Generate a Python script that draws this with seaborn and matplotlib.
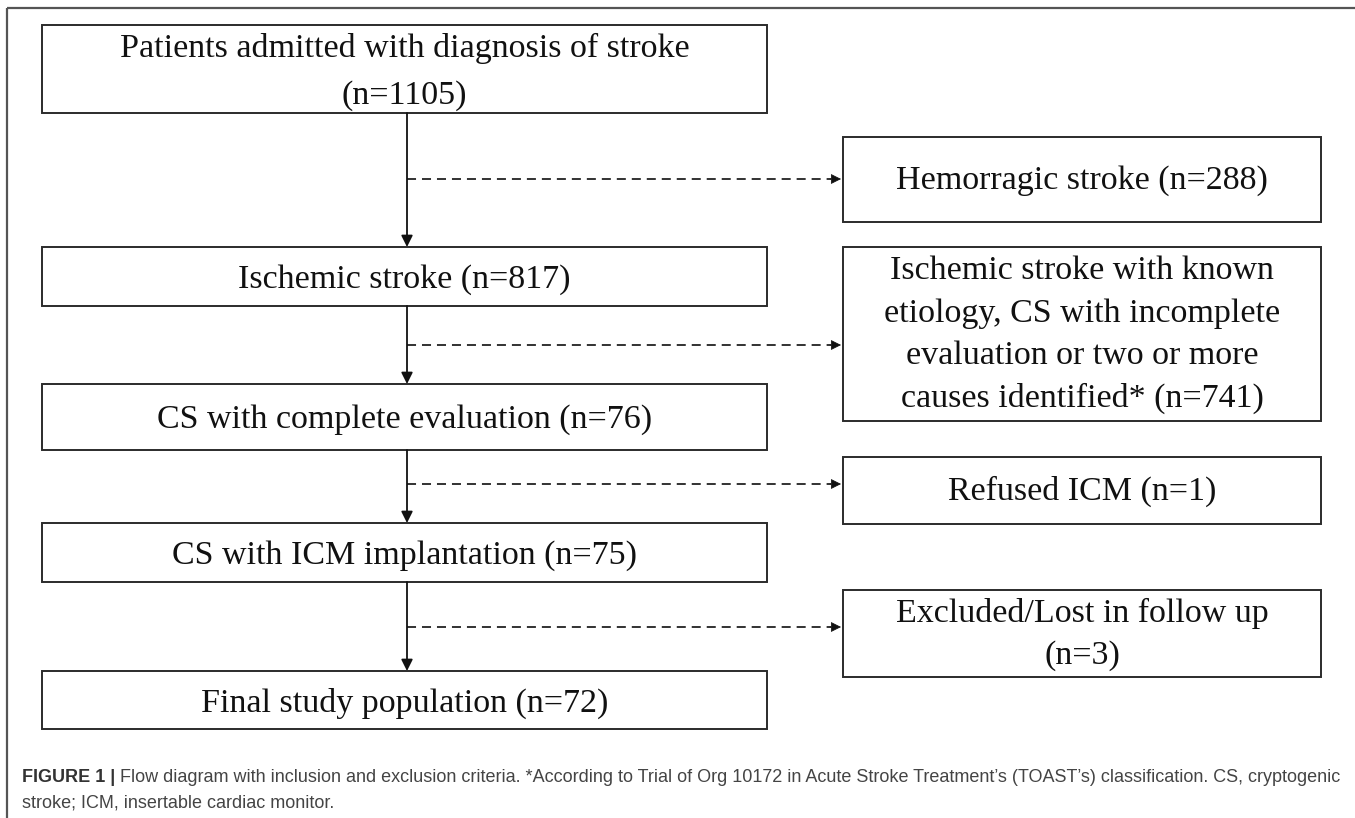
"""
Flow diagram of patient selection (stroke / ICM study), drawn with seaborn + matplotlib.
"""

import matplotlib.pyplot as plt
import seaborn as sns

# ─── Data ─────────────────────────────────────────────────────────────────────

main_labels = [
    "Patients admitted with diagnosis of stroke",
    "Ischemic stroke",
    "CS with complete evaluation",
    "CS with ICM implantation",
    "Final study population",
]
main_counts = [1105, 817, 76, 75, 72]

excl_labels = [
    "Hemorragic stroke",
    "Ischemic stroke with known\netiology, CS with incomplete\nevaluation or two or more\ncauses identified*",
    "Refused ICM",
    "Excluded/Lost in follow up",
]
excl_counts = [288, 741, 1, 3]

caption_bold = "FIGURE 1 | "
caption_line1 = ("Flow diagram with inclusion and exclusion criteria. *According to Trial of Org 10172 "
                 "in Acute Stroke Treatment\u2019s (TOAST\u2019s) classification. CS, cryptogenic")
caption_line2 = "stroke; ICM, insertable cardiac monitor."

# ─── Layout (pixels, y grows downward) ───────────────────────────────────────

W, H = 1355, 818
main_x = (42, 767)
main_y = [(25, 113), (247, 306), (384, 450), (523, 582), (671, 729)]
excl_x = (843, 1321)
excl_y = [(137, 222), (247, 421), (457, 524), (590, 677)]
branch_y = [179, 345, 484, 627]
stem_x = 407

box_color = "#2b2b2b"
serif = ["Liberation Serif", "DejaVu Serif"]

sns.set_theme(style="white")
plt.rcParams["font.family"] = ["Liberation Sans", "DejaVu Sans"]

fig = plt.figure(figsize=(W / 100, H / 100), dpi=100)
ax = fig.add_axes([0, 0, 1, 1])
ax.set_xlim(0, W)
ax.set_ylim(H, 0)
ax.axis("off")

# outer frame (top and left edges)
ax.plot([7, W], [8, 8], color="#555555", lw=1.6, solid_capstyle="butt")
ax.plot([7, 7], [8, H], color="#555555", lw=1.6, solid_capstyle="butt")


def box(x, y, text, ls=1.3, dy=2):
    ax.add_patch(plt.Rectangle((x[0], y[0]), x[1] - x[0], y[1] - y[0],
                               fill=False, ec=box_color, lw=1.4))
    ax.text((x[0] + x[1]) / 2, (y[0] + y[1]) / 2 + dy, text, ha="center", va="center",
            family=serif, fontsize=24.5, color="#111111", linespacing=ls)


# main column
for i, (lab, n) in enumerate(zip(main_labels, main_counts)):
    sep = "\n" if i == 0 else " "
    box(main_x, main_y[i], f"{lab}{sep}(n={n})", ls=1.66, dy=3)

# solid arrows between main boxes
for (a, b) in zip(main_y[:-1], main_y[1:]):
    ax.annotate("", xy=(stem_x, b[0]), xytext=(stem_x, a[1]),
                arrowprops=dict(arrowstyle="-|>", color="#111111", lw=1.3,
                                mutation_scale=17, shrinkA=0, shrinkB=0))

# exclusion boxes
for i, (lab, n) in enumerate(zip(excl_labels, excl_counts)):
    sep = "\n" if i == 3 else " "
    box(excl_x, excl_y[i], f"{lab}{sep}(n={n})", ls=1.5, dy=1)

# dashed branches with arrowheads
for y in branch_y:
    ax.plot([stem_x, excl_x[0] - 12], [y, y], color="#222222", lw=1.3,
            dashes=(5, 3.3), solid_capstyle="butt")
    ax.annotate("", xy=(excl_x[0] - 2, y), xytext=(excl_x[0] - 13, y),
                arrowprops=dict(arrowstyle="-|>", color="#111111", lw=0.5,
                                mutation_scale=16, shrinkA=0, shrinkB=0))

# caption
cap_size = 12.95
t = ax.text(22, 777, caption_bold, ha="left", va="center", fontsize=cap_size,
            fontweight="bold", color="#333333")
fig.canvas.draw()
bb = t.get_window_extent(renderer=fig.canvas.get_renderer())
x_end = ax.transData.inverted().transform((bb.x1, bb.y0))[0]
ax.text(x_end, 777, caption_line1, ha="left", va="center", fontsize=cap_size, color="#444444")
ax.text(22, 803, caption_line2, ha="left", va="center", fontsize=cap_size, color="#444444")

plt.savefig("out.png", dpi=100)
